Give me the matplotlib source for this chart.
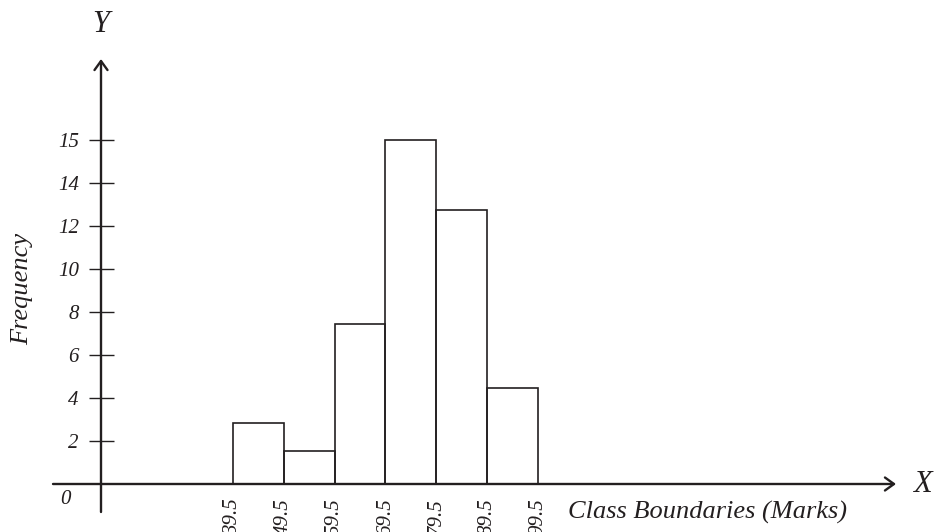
import numpy as np
import matplotlib
matplotlib.use('Agg')
import matplotlib.pyplot as plt

# ----------------------------------------------------------------
# Data
# ----------------------------------------------------------------
class_edges  = [39.5, 49.5, 59.5, 69.5, 79.5, 89.5, 99.5]
frequency    = [2.84, 1.53, 7.44, 16.0, 12.74, 4.47]   # heights on the drawn scale
ytick_pos    = [2, 4, 6, 8, 10, 12, 14, 16]
ytick_labels = ['2', '4', '6', '8', '10', '12', '14', '15']
xtick_labels = ['39.5', '49.5', '59.5', '69.5', '79.5', '89.5', '99.5']

plt.rcParams['font.family'] = ['Liberation Serif', 'DejaVu Serif']
plt.rcParams['font.style'] = 'italic'
ink = '#231f20'

# ----------------------------------------------------------------
# Layout: axes fill the figure, broken x-axis placed by hand
# ----------------------------------------------------------------
W, H = 936, 532
fig = plt.figure(figsize=(W / 100, H / 100), dpi=100)
ax = fig.add_axes([0, 0, 1, 1])

px_x = 5.08       # pixels per mark
px_y = 21.5       # pixels per frequency unit
x_ref, px_ref = 39.5, 233
y_zero_px = 484
ax.set_xlim(x_ref - px_ref / px_x, x_ref + (W - px_ref) / px_x)
ax.set_ylim(-(H - y_zero_px) / px_y, y_zero_px / px_y)

x_org = x_ref - (px_ref - 101) / px_x     # where the Y axis sits
x_start = x_ref - (px_ref - 53) / px_x
x_end = x_ref + (896 - px_ref) / px_x
y_bot = -(512 - y_zero_px) / px_y
y_top = (y_zero_px - 59) / px_y

# histogram bars
ax.bar(class_edges[:-1], frequency, width=np.diff(class_edges), align='edge',
       fill=False, edgecolor=ink, linewidth=1.2, zorder=3)

# axes lines with open arrow heads
arrow = dict(arrowstyle='->,head_length=0.5,head_width=0.36', color=ink,
             lw=1.7, mutation_scale=13, shrinkA=0, shrinkB=0)
ax.annotate('', xy=(x_org, y_top), xytext=(x_org, y_bot), arrowprops=arrow)
ax.annotate('', xy=(x_end, 0), xytext=(x_start, 0), arrowprops=arrow)

for s in ['top', 'right']:
    ax.spines[s].set_visible(False)
ax.spines['left'].set_position(('data', x_org))
ax.spines['bottom'].set_position(('data', 0))
ax.spines['left'].set_color('none')
ax.spines['bottom'].set_color('none')

ax.set_yticks(ytick_pos, ytick_labels)
ax.tick_params(axis='y', direction='inout', length=18, width=1.0, color=ink,
               labelsize=15, pad=7, labelcolor=ink)
ax.set_xticks(class_edges, xtick_labels, rotation=90, va='top')
ax.tick_params(axis='x', length=0, labelsize=15, pad=10, labelcolor=ink)

# text labels
ax.text(x_org - 36 / px_x, -16 / px_y, '0', fontsize=15, ha='center', va='center', color=ink)
ax.text(x_org, (y_zero_px - 24) / px_y, 'Y', fontsize=22, ha='center', va='center', color=ink)
ax.text(x_ref + (922 - px_ref) / px_x, 0, 'X', fontsize=22, ha='center', va='center', color=ink)
ax.text(x_ref + (568 - px_ref) / px_x, -(512 - y_zero_px) / px_y, 'Class Boundaries (Marks)',
        fontsize=19, ha='left', va='center', color=ink)
fig.text(22 / W, 1 - 289 / H, 'Frequency', fontsize=19, rotation=90,
         ha='center', va='center', color=ink)

fig.savefig('out.png', dpi=100, facecolor='white')
